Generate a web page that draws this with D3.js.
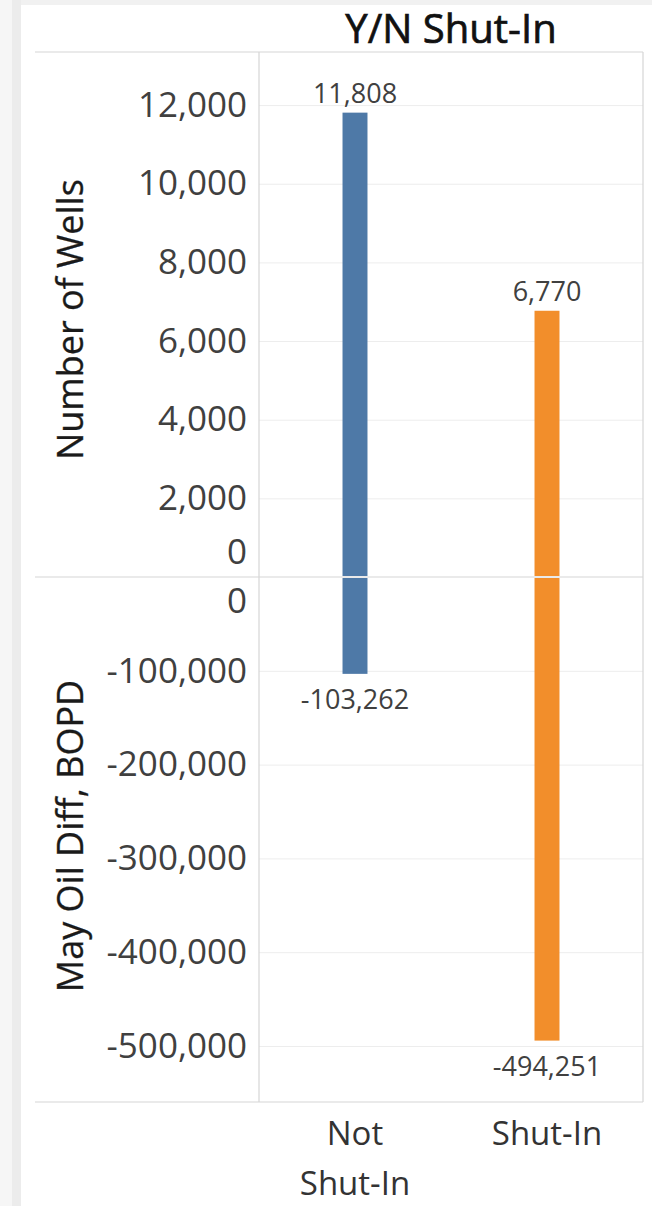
<!DOCTYPE html>
<html lang="en">
    <head>
        <meta charset="UTF-8" />
        <title>Y/N Shut-In</title>
        <script src="https://cdn.jsdelivr.net/npm/d3@7"></script>
        <style>
            body {
                margin: 0;
                background: #fff;
            }
            svg {
                display: block;
                font-family: 'Open Sans', 'DejaVu Sans', sans-serif;
            }
        </style>
    </head>
    <body>
        <div id="container"></div>
        <script>
            // values
            const categories = ['Not Shut-In', 'Shut-In']
            const wells = [11808, 6770]
            const oilDiff = [-103262, -494251]
            const wellTicks = [0, 2000, 4000, 6000, 8000, 10000, 12000]
            const oilTicks = [0, -100000, -200000, -300000, -400000, -500000]
            const wellDomain = [0, 13350]
            const oilDomain = [0, -559700]
            const barColors = ['#4e79a7', '#f28e2b']

            const width = 652
            const height = 1206
            const left = 259
            const right = 643
            const headerY = 52
            const midY = 577
            const bottomY = 1102
            const frameLeft = 35
            // plain hyphen for negatives, like the source
            const format = d3.formatLocale({ decimal: '.', thousands: ',', grouping: [3], currency: ['$', ''], minus: '-' }).format(',')

            const svg = d3.select('#container').append('svg').attr('width', width).attr('height', height)

            // window chrome around the sheet
            svg.append('rect').attr('width', width).attr('height', height).attr('fill', '#fff')
            svg.append('rect').attr('width', width).attr('height', 5).attr('fill', '#f1f1f1')
            svg.append('rect').attr('width', 12).attr('height', height).attr('fill', '#f6f6f6')
            svg.append('rect').attr('x', 12).attr('width', 9).attr('height', height).attr('fill', '#ececec')

            const x = d3.scaleBand().domain(categories).range([left, right]).padding(0)
            const barWidth = x.bandwidth() * 0.13
            const yTop = d3.scaleLinear().domain(wellDomain).range([midY, headerY])
            const yBot = d3.scaleLinear().domain(oilDomain).range([midY, bottomY])

            // gridlines
            const grid = (scale, ticks) => {
                const g = svg
                    .append('g')
                    .attr('transform', `translate(${left},0)`)
                    .call(d3.axisLeft(scale).tickValues(ticks.filter((t) => t !== 0)).tickSize(-(right - left)).tickFormat(''))
                g.select('.domain').remove()
                g.selectAll('line').attr('stroke', '#ededed').attr('stroke-width', 1)
            }
            grid(yTop, wellTicks)
            grid(yBot, oilTicks)

            // frame lines
            const frame = svg.append('g').attr('stroke', '#d6d6d6').attr('stroke-width', 1.2)
            frame.append('line').attr('x1', frameLeft).attr('x2', right).attr('y1', headerY).attr('y2', headerY)
            frame.append('line').attr('x1', frameLeft).attr('x2', right).attr('y1', midY).attr('y2', midY)
            frame.append('line').attr('x1', frameLeft).attr('x2', right).attr('y1', bottomY).attr('y2', bottomY)
            frame.append('line').attr('x1', left).attr('x2', left).attr('y1', headerY).attr('y2', bottomY)
            frame.append('line').attr('x1', right).attr('x2', right).attr('y1', headerY).attr('y2', bottomY)

            // tick labels, kept inside their pane like tableau does
            const tickLabels = (scale, ticks, lo, hi) => {
                const g = svg
                    .append('g')
                    .attr('transform', `translate(${left},0)`)
                    .call(d3.axisLeft(scale).tickValues(ticks).tickSize(0).tickPadding(12).tickFormat(format))
                    .attr('font-family', null)
                    .attr('font-size', 35)
                g.select('.domain').remove()
                g.selectAll('text')
                    .attr('fill', '#404040')
                    .attr('y', (d) => {
                        const pos = scale(d)
                        const clamped = Math.max(lo + 24.5, Math.min(hi - 24.5, pos))
                        return clamped - pos
                    })
            }
            tickLabels(yTop, wellTicks, headerY, midY)
            tickLabels(yBot, oilTicks, midY, bottomY)

            // bars
            svg.selectAll('.bar-top')
                .data(categories)
                .enter()
                .append('rect')
                .attr('class', 'bar-top')
                .attr('x', (d) => x(d) + x.bandwidth() / 2 - barWidth / 2)
                .attr('width', barWidth)
                .attr('y', (d, i) => yTop(wells[i]))
                .attr('height', (d, i) => yTop(0) - yTop(wells[i]) - 1)
                .attr('fill', (d, i) => barColors[i])

            svg.selectAll('.bar-bot')
                .data(categories)
                .enter()
                .append('rect')
                .attr('class', 'bar-bot')
                .attr('x', (d) => x(d) + x.bandwidth() / 2 - barWidth / 2)
                .attr('width', barWidth)
                .attr('y', yBot(0) + 1)
                .attr('height', (d, i) => yBot(oilDiff[i]) - yBot(0) - 1)
                .attr('fill', (d, i) => barColors[i])

            // bar value labels
            svg.selectAll('.lbl-top')
                .data(categories)
                .enter()
                .append('text')
                .attr('x', (d) => x(d) + x.bandwidth() / 2)
                .attr('y', (d, i) => yTop(wells[i]) - 10)
                .attr('text-anchor', 'middle')
                .attr('font-size', 27)
                .attr('fill', '#404040')
                .text((d, i) => format(wells[i]))

            svg.selectAll('.lbl-bot')
                .data(categories)
                .enter()
                .append('text')
                .attr('x', (d) => x(d) + x.bandwidth() / 2)
                .attr('y', (d, i) => yBot(oilDiff[i]) + 35)
                .attr('text-anchor', 'middle')
                .attr('font-size', 27)
                .attr('fill', '#404040')
                .text((d, i) => format(oilDiff[i]))

            // category labels (wrapped)
            const catLabel = svg
                .selectAll('.cat')
                .data(categories)
                .enter()
                .append('text')
                .attr('text-anchor', 'middle')
                .attr('font-size', 33)
                .attr('fill', '#333')
            catLabel.each(function (d) {
                const lines = d === 'Not Shut-In' ? ['Not', 'Shut-In'] : [d]
                d3.select(this)
                    .selectAll('tspan')
                    .data(lines)
                    .enter()
                    .append('tspan')
                    .attr('x', x(d) + x.bandwidth() / 2)
                    .attr('y', (l, i) => bottomY + 43 + i * 50)
                    .text((l) => l)
            })

            // header title (regular face thickened a little to look semibold)
            svg.append('text')
                .attr('x', (left + right) / 2)
                .attr('y', 43)
                .attr('text-anchor', 'middle')
                .attr('font-size', 40)
                .attr('fill', '#111')
                .attr('stroke', '#111')
                .attr('stroke-width', 0.7)
                .text('Y/N Shut-In')

            // axis titles
            svg.append('text')
                .attr('transform', `translate(83,${(headerY + midY) / 2 + 5}) rotate(-90)`)
                .attr('text-anchor', 'middle')
                .attr('font-size', 36)
                .attr('fill', '#1a1a1a')
                .attr('stroke', '#1a1a1a')
                .attr('stroke-width', 0.3)
                .text('Number of Wells')

            svg.append('text')
                .attr('transform', `translate(83,836) rotate(-90)`)
                .attr('text-anchor', 'middle')
                .attr('font-size', 36)
                .attr('fill', '#1a1a1a')
                .attr('stroke', '#1a1a1a')
                .attr('stroke-width', 0.3)
                .text('May Oil Diff, BOPD')
        </script>
    </body>
</html>
